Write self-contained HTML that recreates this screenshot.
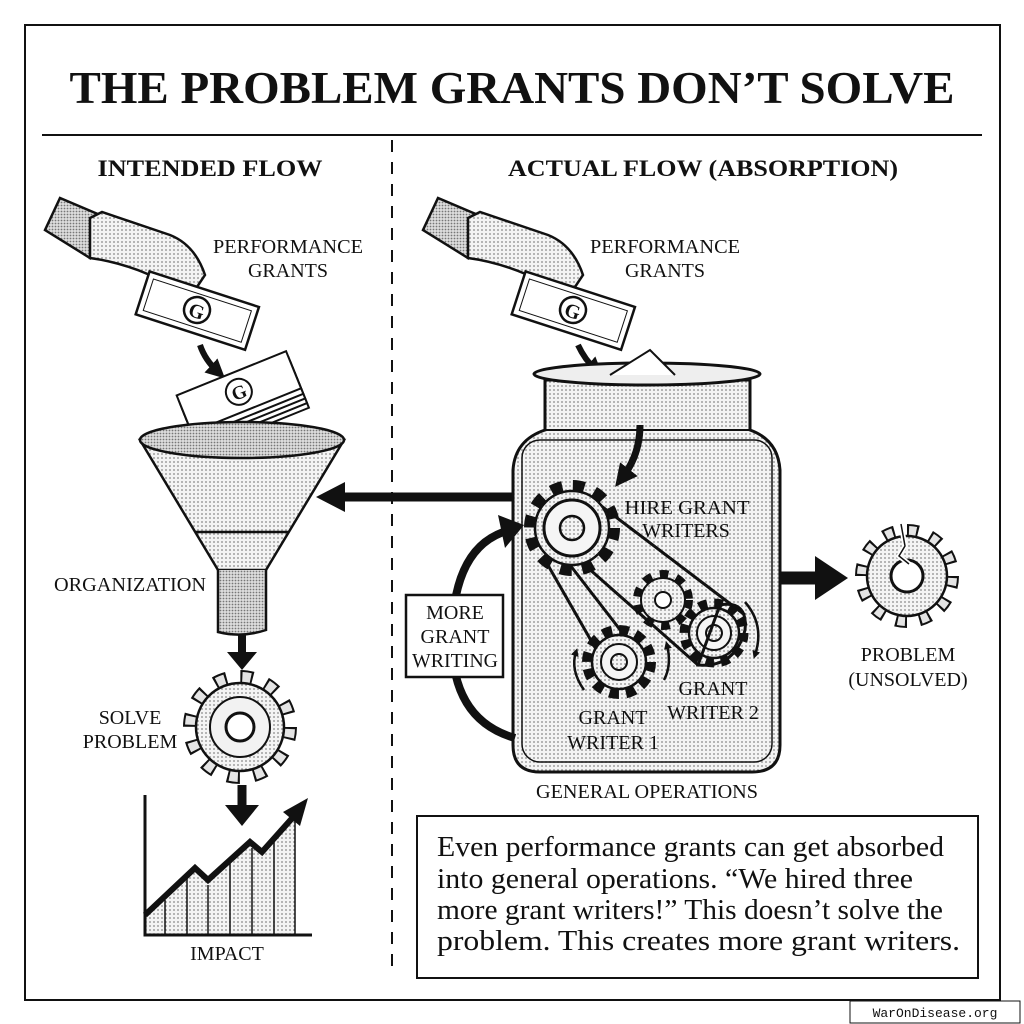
<!DOCTYPE html>
<html><head><meta charset="utf-8"><style>
html,body{margin:0;padding:0;background:#fff}
svg{display:block}
text{font-family:"Liberation Serif",serif;fill:#111}
</style></head><body>
<svg width="1024" height="1024" viewBox="0 0 1024 1024" xmlns="http://www.w3.org/2000/svg">
<defs>
<pattern id="dots" width="4" height="4" patternUnits="userSpaceOnUse"><rect width="4" height="4" fill="#f4f4f4"/><circle cx="2" cy="2" r="0.9" fill="#888"/></pattern>
<pattern id="dots2" width="3" height="3" patternUnits="userSpaceOnUse"><rect width="3" height="3" fill="#ddd"/><circle cx="1.5" cy="1.5" r="0.9" fill="#777"/></pattern>
<marker id="ah" viewBox="0 0 10 10" refX="5" refY="5" markerWidth="3.2" markerHeight="3.2" orient="auto"><path d="M0,0L10,5L0,10z" fill="#111"/></marker>
</defs>
<rect x="0" y="0" width="1024" height="1024" fill="#fff"/>
<rect x="25" y="25" width="975" height="975" fill="none" stroke="#111" stroke-width="2"/>
<text x="512" y="103" text-anchor="middle" font-size="46" font-weight="bold" textLength="885" lengthAdjust="spacingAndGlyphs">THE PROBLEM GRANTS DON’T SOLVE</text>
<line x1="42" y1="135" x2="982" y2="135" stroke="#111" stroke-width="2"/>
<line x1="392" y1="140" x2="392" y2="975" stroke="#111" stroke-width="2" stroke-dasharray="12 10"/>
<text x="210" y="176" text-anchor="middle" font-size="23" font-weight="bold" textLength="225" lengthAdjust="spacingAndGlyphs">INTENDED FLOW</text>
<text x="703" y="176" text-anchor="middle" font-size="23" font-weight="bold" textLength="390" lengthAdjust="spacingAndGlyphs">ACTUAL FLOW (ABSORPTION)</text>

<!-- left hand -->
<g stroke="#111" stroke-width="2.5" fill="#fff">
<path d="M45,230 L60,198 L100,215 L90,258 Z" fill="url(#dots2)"/>
<path d="M90,218 L102,212 Q140,225 170,235 Q195,245 205,275 L195,290 Q170,285 150,275 Q120,262 90,258 Z" fill="url(#dots)"/>
<g transform="rotate(18 197 310)"><rect x="140" y="288" width="115" height="45" fill="#fff"/><rect x="146" y="294" width="103" height="33" fill="none" stroke-width="1"/><circle cx="197" cy="310" r="13"/><text x="197" y="318" text-anchor="middle" font-size="20" font-weight="bold" stroke="none">G</text></g>
</g>
<text x="288" y="253" text-anchor="middle" font-size="20" textLength="150" lengthAdjust="spacingAndGlyphs">PERFORMANCE</text>
<text x="288" y="277" text-anchor="middle" font-size="20">GRANTS</text>
<path d="M200,345 Q205,360 218,372" stroke="#111" stroke-width="6" fill="none" marker-end="url(#ah)"/>
<!-- stack -->
<g stroke="#111" stroke-width="2" fill="#fff" transform="rotate(-22 240 400)">
<rect x="183" y="393" width="118" height="40"/><rect x="183" y="388" width="118" height="40"/><rect x="183" y="383" width="118" height="40"/><rect x="183" y="378" width="118" height="40"/><rect x="183" y="372" width="118" height="40"/>
<circle cx="242" cy="392" r="13"/><text x="242" y="399" text-anchor="middle" font-size="19" font-weight="bold" stroke="none">G</text></g>
<!-- funnel -->
<g stroke="#111" stroke-width="2.5">
<path d="M140,440 L218,570 L266,570 L344,440 Z" fill="url(#dots)"/>
<ellipse cx="242" cy="440" rx="102" ry="18" fill="url(#dots2)"/>
<path d="M218,570 L218,632 Q242,638 266,630 L266,570" fill="url(#dots2)"/>
<line x1="196" y1="532" x2="288" y2="532"/>
</g>
<text x="130" y="591" text-anchor="middle" font-size="20" textLength="152" lengthAdjust="spacingAndGlyphs">ORGANIZATION</text>
<line x1="242" y1="635" x2="242" y2="655" stroke="#111" stroke-width="8"/><path d="M227,652L257,652L242,670z" fill="#111"/>
<!-- solve gear -->
<g transform="translate(240,727)">
<circle r="48" fill="none" stroke="#111" stroke-width="18" stroke-dasharray="12 13.13"/>
<circle r="48" fill="none" stroke="#e4e4e4" stroke-width="14" stroke-dasharray="8 17.13" stroke-dashoffset="-2"/>
<circle r="44" fill="url(#dots)" stroke="#111" stroke-width="2.5"/>
<circle r="30" fill="#f2f2f2" stroke="#111" stroke-width="2"/>
<circle r="14" fill="#fff" stroke="#111" stroke-width="3"/>
</g>
<text x="130" y="724" text-anchor="middle" font-size="20">SOLVE</text>
<text x="130" y="748" text-anchor="middle" font-size="20">PROBLEM</text>
<line x1="242" y1="785" x2="242" y2="808" stroke="#111" stroke-width="9"/><path d="M225,805L259,805L242,826z" fill="#111"/>
<!-- chart -->
<path d="M145,915 L195,868 L208,880 L250,842 L262,852 L295,815 L295,935 L145,935 Z" fill="url(#dots)"/>
<g stroke="#111" stroke-width="1.5"><line x1="165" y1="900" x2="165" y2="935"/><line x1="187" y1="878" x2="187" y2="935"/><line x1="208" y1="885" x2="208" y2="935"/><line x1="230" y1="862" x2="230" y2="935"/><line x1="252" y1="848" x2="252" y2="935"/><line x1="274" y1="840" x2="274" y2="935"/><line x1="295" y1="820" x2="295" y2="935"/></g>
<path d="M145,795 L145,935 L312,935" stroke="#111" stroke-width="3" fill="none"/>
<path d="M145,915 L195,868 L208,880 L250,842 L262,852 L295,815" stroke="#111" stroke-width="6" fill="none"/>
<path d="M283,812 L308,798 L300,826 z" fill="#111"/>
<text x="227" y="960" text-anchor="middle" font-size="20">IMPACT</text>

<!-- right hand -->
<g stroke="#111" stroke-width="2.5" fill="#fff">
<path d="M423,230 L438,198 L478,215 L468,258 Z" fill="url(#dots2)"/>
<path d="M468,218 L480,212 Q518,225 548,235 Q573,245 583,275 L573,290 Q548,285 528,275 Q498,262 468,258 Z" fill="url(#dots)"/>
<g transform="rotate(18 573 310)"><rect x="516" y="288" width="115" height="45" fill="#fff"/><rect x="522" y="294" width="103" height="33" fill="none" stroke-width="1"/><circle cx="573" cy="310" r="13"/><text x="573" y="318" text-anchor="middle" font-size="20" font-weight="bold" stroke="none">G</text></g>
</g>
<text x="665" y="253" text-anchor="middle" font-size="20" textLength="150" lengthAdjust="spacingAndGlyphs">PERFORMANCE</text>
<text x="665" y="277" text-anchor="middle" font-size="20">GRANTS</text>
<path d="M578,345 Q585,360 596,370" stroke="#111" stroke-width="6" fill="none" marker-end="url(#ah)"/>
<!-- jar -->
<g stroke="#111" stroke-width="3">
<path d="M545,380 L545,430 Q515,440 513,470 L513,745 Q513,772 540,772 L752,772 Q780,772 780,745 L780,470 Q778,440 750,430 L750,380 Z" fill="url(#dots)"/>
<path d="M545,430 L750,430" fill="none" stroke-width="2"/>
<ellipse cx="647" cy="374" rx="113" ry="11" fill="#eee"/>
<path d="M610,375 L650,350 L675,375" fill="#fff" stroke-width="2"/>
</g>
<rect x="522" y="440" width="250" height="322" rx="18" fill="none" stroke="#111" stroke-width="1.5"/>
<path d="M640,425 Q640,455 622,478" stroke="#111" stroke-width="7" fill="none" marker-end="url(#ah)"/>
<line x1="512" y1="497" x2="340" y2="497" stroke="#111" stroke-width="9"/><path d="M345,482L345,512L316,497z" fill="#111"/>
<path d="M515,738 Q452,720 452,640 Q452,545 510,530" stroke="#111" stroke-width="8" fill="none"/>
<path d="M498,515 L524,525 L505,548 z" fill="#111"/>
<rect x="406" y="595" width="97" height="82" fill="#fff" stroke="#111" stroke-width="2.5"/>
<text x="455" y="619" text-anchor="middle" font-size="20">MORE</text>
<text x="455" y="643" text-anchor="middle" font-size="20">GRANT</text>
<text x="455" y="667" text-anchor="middle" font-size="20" textLength="86" lengthAdjust="spacingAndGlyphs">WRITING</text>
<g stroke="#111" stroke-width="3" fill="none">
<path d="M545,530 L698,665 M600,505 L745,615 M545,560 L605,665 M570,565 L628,640"/>
</g>
<g transform="translate(572,528)">
<circle r="40" fill="none" stroke="#111" stroke-width="16" stroke-dasharray="11 10"/>
<circle r="37" fill="url(#dots)" stroke="#111" stroke-width="2.5"/>
<circle r="28" fill="#f5f5f5" stroke="#111" stroke-width="3"/><circle r="12" fill="url(#dots)" stroke="#111" stroke-width="2.5"/>
</g>
<g transform="translate(663,600)">
<circle r="24" fill="none" stroke="#111" stroke-width="12" stroke-dasharray="8 7.7"/>
<circle r="22" fill="url(#dots)" stroke="#111" stroke-width="2"/><circle r="8" fill="#fff" stroke="#111" stroke-width="2"/>
</g>
<g transform="translate(714,633)">
<circle r="28" fill="none" stroke="#111" stroke-width="13" stroke-dasharray="8 6.66"/>
<circle r="25" fill="url(#dots)" stroke="#111" stroke-width="2.5"/><circle r="17" fill="#f5f5f5" stroke="#111" stroke-width="2"/><circle r="8" fill="url(#dots)" stroke="#111" stroke-width="2"/>
</g>
<g transform="translate(619,662)">
<circle r="30" fill="none" stroke="#111" stroke-width="14" stroke-dasharray="9 6.7"/>
<circle r="27" fill="url(#dots)" stroke="#111" stroke-width="2.5"/><circle r="18" fill="#f5f5f5" stroke="#111" stroke-width="2"/><circle r="8" fill="url(#dots)" stroke="#111" stroke-width="2"/>
</g>
<path d="M698,665 Q735,668 745,630 Q748,600 720,605 Z" fill="none" stroke="#111" stroke-width="3"/>
<path d="M584,690 Q570,670 576,652" stroke="#111" stroke-width="2.5" fill="none" marker-end="url(#ah)"/>
<path d="M664,680 Q672,665 667,645" stroke="#111" stroke-width="2.5" fill="none" marker-end="url(#ah)"/>
<path d="M745,602 Q765,625 755,655" stroke="#111" stroke-width="2.5" fill="none" marker-end="url(#ah)"/>
<text x="687" y="514" text-anchor="middle" font-size="20" textLength="125" lengthAdjust="spacingAndGlyphs">HIRE GRANT</text>
<text x="686" y="537" text-anchor="middle" font-size="20">WRITERS</text>
<text x="713" y="695" text-anchor="middle" font-size="20">GRANT</text>
<text x="713" y="719" text-anchor="middle" font-size="20">WRITER 2</text>
<text x="613" y="724" text-anchor="middle" font-size="20">GRANT</text>
<text x="613" y="749" text-anchor="middle" font-size="20">WRITER 1</text>
<text x="647" y="798" text-anchor="middle" font-size="20" textLength="222" lengthAdjust="spacingAndGlyphs">GENERAL OPERATIONS</text>
<line x1="780" y1="578" x2="820" y2="578" stroke="#111" stroke-width="13"/><path d="M815,556L815,600L848,578z" fill="#111"/>
<g transform="translate(907,576)">
<circle r="44" fill="none" stroke="#111" stroke-width="16" stroke-dasharray="11 12"/>
<circle r="44" fill="none" stroke="#e4e4e4" stroke-width="12" stroke-dasharray="7 16" stroke-dashoffset="-2"/>
<circle r="40" fill="url(#dots)" stroke="#111" stroke-width="2.5"/>
<circle r="16" fill="#fff" stroke="#111" stroke-width="3"/>
<path d="M-6,-52 L-2,-30 L-8,-20 L2,-12" stroke="#fff" stroke-width="5" fill="none"/>
<path d="M-6,-52 L-2,-30 L-8,-20 L2,-12" stroke="#111" stroke-width="1.5" fill="none"/>
</g>
<text x="908" y="661" text-anchor="middle" font-size="20">PROBLEM</text>
<text x="908" y="686" text-anchor="middle" font-size="20">(UNSOLVED)</text>
<rect x="417" y="816" width="561" height="162" fill="#fff" stroke="#111" stroke-width="2"/>
<g font-size="28">
<text x="437" y="856" textLength="507" lengthAdjust="spacingAndGlyphs">Even performance grants can get absorbed</text>
<text x="437" y="888" textLength="476" lengthAdjust="spacingAndGlyphs">into general operations. “We hired three</text>
<text x="437" y="919" textLength="506" lengthAdjust="spacingAndGlyphs">more grant writers!” This doesn’t solve the</text>
<text x="437" y="950" textLength="523" lengthAdjust="spacingAndGlyphs">problem. This creates more grant writers.</text>
</g>
<rect x="850" y="1001" width="170" height="22" fill="#fff" stroke="#111" stroke-width="1"/>
<text x="935" y="1017" text-anchor="middle" font-size="13" style="font-family:'Liberation Mono',monospace">WarOnDisease.org</text>
</svg>
</body></html>
